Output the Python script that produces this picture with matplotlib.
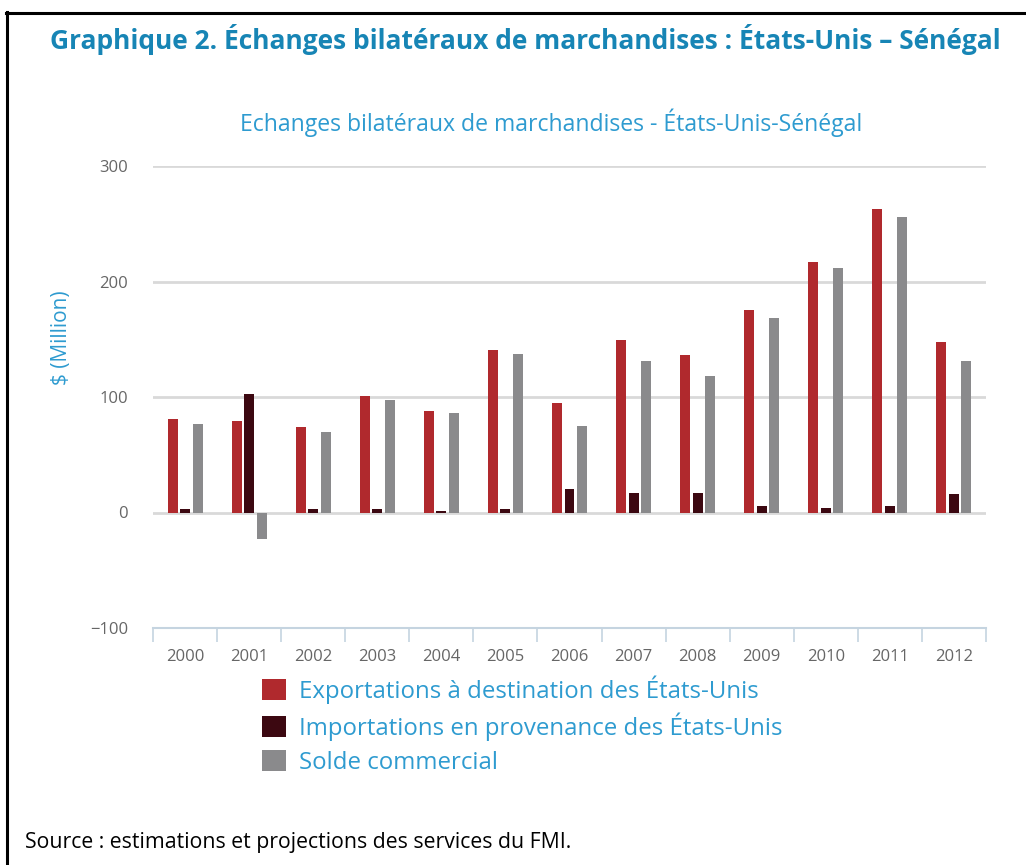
import matplotlib
matplotlib.use("Agg")
import matplotlib.pyplot as plt
import numpy as np
from matplotlib.patches import Patch
from matplotlib.lines import Line2D

years = ["2000", "2001", "2002", "2003", "2004", "2005", "2006",
         "2007", "2008", "2009", "2010", "2011", "2012"]
exports = [81, 79, 74, 101, 88, 141, 95, 149, 136, 175, 217, 263, 148]
imports = [3, 103, 3, 3, 1.5, 3, 20, 17, 17, 6, 4, 6, 16]
balance = [77, -23, 70, 97, 86, 137, 75, 131, 118, 168, 212, 256, 131]
series_names = ["Exportations à destination des États-Unis",
                "Importations en provenance des États-Unis",
                "Solde commercial"]
yticks = [-100, 0, 100, 200, 300]

main_title = "Graphique 2. Échanges bilatéraux de marchandises : États-Unis – Sénégal"
chart_title = "Echanges bilatéraux de marchandises - États-Unis-Sénégal"
ylabel = "$ (Million)"
source = "Source : estimations et projections des services du FMI."

c_exp = "#b0292d"
c_imp = "#3c0811"
c_bal = "#8a8a8c"
c_blue = "#2e9bd0"
c_title = "#1785b5"

plt.rcParams["font.family"] = ["Open Sans", "DejaVu Sans"]

W, H = 1026, 865
fig = plt.figure(figsize=(W / 100, H / 100), dpi=100)


def fx(px):
    return px / W


def fy(py):
    return 1 - py / H


renderer = fig.canvas.get_renderer()


def fit_width(t, target, vertical=False):
    for _ in range(2):
        bb = t.get_window_extent(renderer)
        cur = bb.height if vertical else bb.width
        t.set_fontsize(t.get_fontsize() * target / cur)


ax = fig.add_axes([fx(153), fy(628), (986 - 153) / W, (628 - 166) / H])
x = np.arange(len(years))
off, bw = 0.195, 0.156
ax.bar(x - off, exports, bw, color=c_exp, zorder=3, label=series_names[0])
ax.bar(x, imports, bw, color=c_imp, zorder=3, label=series_names[1])
ax.bar(x + off, balance, bw, color=c_bal, zorder=3, label=series_names[2])

ax.set_xlim(-0.5, len(years) - 0.5)
ax.set_ylim(-100, 300)
ax.set_yticks(yticks)
ax.set_yticklabels(["\u2212100" if v < 0 else str(v) for v in yticks])
ax.grid(axis="y", color="#d9d9d9", lw=2, zorder=1)
ax.set_axisbelow(True)
for s in ["top", "right", "left"]:
    ax.spines[s].set_visible(False)
ax.spines["bottom"].set_color("#c5d4e0")
ax.spines["bottom"].set_linewidth(1.5)
ax.spines["bottom"].set_zorder(4)

ax.set_xticks(x)
ax.set_xticklabels(years)
ax.set_xticks(np.arange(-0.5, len(years), 1.0), minor=True)
ax.tick_params(axis="x", which="major", length=0, pad=15, labelsize=12, labelcolor="#666666")
ax.tick_params(axis="x", which="minor", length=10, width=1.2, color="#c5d4e0")
ax.tick_params(axis="y", length=0, pad=18, labelsize=12, labelcolor="#666666")

# frame
fig.add_artist(Line2D([fx(7), fx(7)], [fy(12), 0], color="black", lw=2.2))
fig.add_artist(Line2D([fx(6), 1], [fy(12.5), fy(12.5)], color="black", lw=2.2))

t1 = fig.text(fx(525), fy(49), main_title, ha="center", va="baseline",
              fontsize=16, fontweight="bold", color=c_title)
fit_width(t1, 950)
t2 = fig.text(fx(551), fy(131), chart_title, ha="center", va="baseline",
              fontsize=12, color=c_blue)
fit_width(t2, 622)
t3 = fig.text(fx(25), fy(848), source, ha="left", va="baseline",
              fontsize=12, color="black")
fit_width(t3, 548)
t4 = fig.text(fx(61), fy(338), ylabel, ha="center", va="center",
              rotation=90, fontsize=11, color=c_blue)
fit_width(t4, 95, vertical=True)

tmp = fig.text(0, 0, series_names[0], fontsize=14)
fit_width(tmp, 462)
lfs = tmp.get_fontsize()
tmp.remove()

handles = [Patch(facecolor=c, edgecolor="none") for c in (c_exp, c_imp, c_bal)]
leg = fig.legend(handles, series_names, loc="upper left",
                 bbox_to_anchor=(fx(262), fy(675)), frameon=False,
                 fontsize=lfs, labelcolor=c_blue, handlelength=1.0,
                 handleheight=1.0, handletextpad=0.55, labelspacing=0.37,
                 borderpad=0, borderaxespad=0)

fig.savefig("out.png", dpi=100)
